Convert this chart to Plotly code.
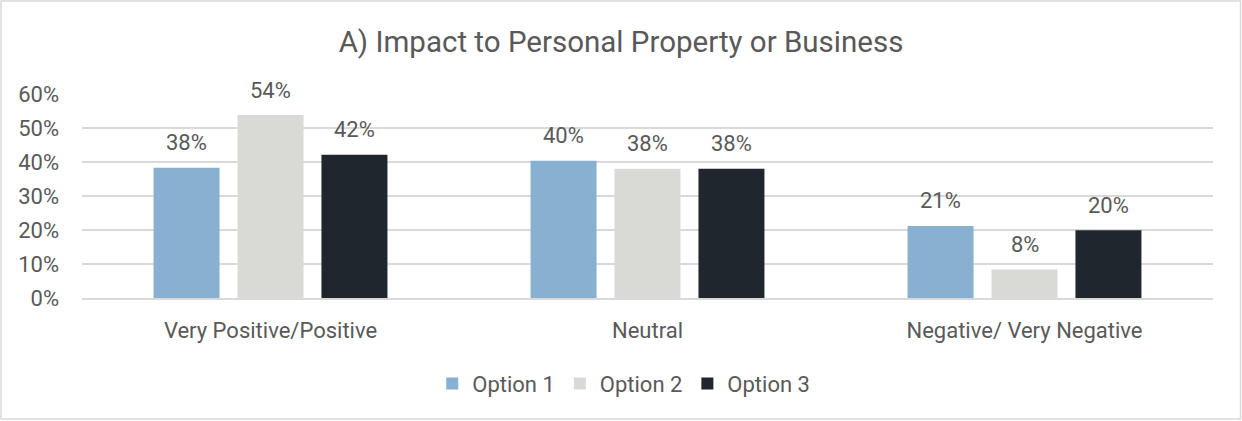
import plotly.graph_objects as go

categories = ["Very Positive/Positive", "Neutral", "Negative/ Very Negative"]
series_names = ["Option 1", "Option 2", "Option 3"]
option1 = [38.3, 40.4, 21.2]
option2 = [53.8, 38.0, 8.4]
option3 = [42.1, 38.0, 19.9]
series_values = [option1, option2, option3]
colors = ["#87B0D1", "#D9DAD6", "#1F262D"]
y_tick_vals = [0, 10, 20, 30, 40, 50, 60]
y_tick_text = ["0%", "10%", "20%", "30%", "40%", "50%", "60%"]
title_text = "A) Impact to Personal Property or Business"

W_FIG, H_FIG = 1242, 421
ML, MR, MT, MB = 82, 29, 94, 123
BARGAP = 0.332
BARGROUPGAP = 0.214
FONT = "Roboto"
TXT = "#595959"

fig = go.Figure()
for name, vals, col in zip(series_names, series_values, colors):
    fig.add_trace(go.Bar(x=categories, y=vals, name=name, marker_color=col,
                         marker_line_width=0))

plot_w = W_FIG - ML - MR
pitch = plot_w / len(categories) * (1 - BARGAP) / len(series_names)
annotations = []
for j, vals in enumerate(series_values):
    for cat, v in zip(categories, vals):
        annotations.append(dict(x=cat, y=v, xref="x", yref="y", text=f"{v:.0f}%",
                                showarrow=False, xshift=(j - 1) * pitch, yshift=25,
                                yanchor="middle", font=dict(family=FONT, size=22, color=TXT)))

fig.update_layout(
    width=W_FIG, height=H_FIG,
    margin=dict(l=ML, r=MR, t=MT, b=MB),
    paper_bgcolor="white", plot_bgcolor="white",
    barmode="group", bargap=BARGAP, bargroupgap=BARGROUPGAP,
    title=dict(text=title_text, x=0.5, xanchor="center", y=1 - 42 / H_FIG, yanchor="middle",
               xref="container", font=dict(family=FONT, size=29.5, color=TXT)),
    font=dict(family=FONT, size=22, color=TXT),
    showlegend=True,
    legend=dict(orientation="h", x=0.479, xanchor="center", y=-0.42, yanchor="middle",
                font=dict(family=FONT, size=22, color=TXT), itemsizing="constant",
                traceorder="normal"),
    annotations=annotations,
    shapes=[dict(type="rect", xref="paper", yref="paper",
                 x0=-(ML - 1) / plot_w, x1=1 + (MR - 1.5) / plot_w,
                 y0=-(MB - 2) / (H_FIG - MT - MB), y1=1 + (MT - 1) / (H_FIG - MT - MB),
                 line=dict(color="#D9D9D9", width=1.5), layer="below")],
)
fig.update_yaxes(range=[0, 60], tickvals=y_tick_vals, ticktext=y_tick_text,
                 showgrid=True, gridcolor="#D9D9D9", gridwidth=1.5,
                 zeroline=False, showline=False, ticks="", ticklabelstandoff=22,
                 tickfont=dict(family=FONT, size=22, color=TXT))
fig.update_xaxes(showline=True, linecolor="#D9D9D9", linewidth=1.5, ticks="",
                 ticklabelstandoff=12,
                 tickfont=dict(family=FONT, size=22, color=TXT))

fig.write_html("out.html")
